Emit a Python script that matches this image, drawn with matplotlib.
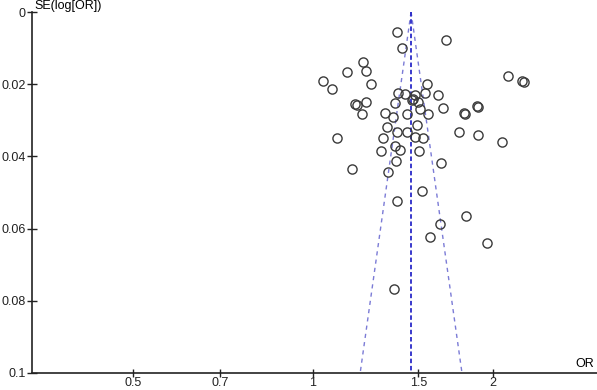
import numpy as np
import matplotlib.pyplot as plt

# study estimates
odds_ratio = [1.382, 1.669, 1.409, 1.212, 1.226, 1.140, 1.039, 1.076, 1.250, 2.119,
              2.236, 2.253, 1.551, 1.387, 1.425, 1.481, 1.539, 1.618, 1.371, 1.464,
              1.470, 1.498, 1.185, 1.176, 1.226, 1.510, 1.650, 1.888, 1.880, 1.789,
              1.796, 1.208, 1.319, 1.361, 1.436, 1.557, 1.330, 1.493, 1.382, 1.436,
              1.755, 1.888, 1.097, 1.309, 1.481, 1.527, 2.071, 1.371, 1.398, 1.299,
              1.504, 1.377, 1.637, 1.162, 1.335, 1.522, 1.382, 1.802, 1.631, 1.569,
              1.954, 1.366]
se_log_or = [0.0055, 0.0078, 0.0100, 0.0139, 0.0163, 0.0166, 0.0191, 0.0213, 0.0199, 0.0177,
             0.0191, 0.0194, 0.0199, 0.0224, 0.0227, 0.0230, 0.0224, 0.0230, 0.0252, 0.0244,
             0.0241, 0.0249, 0.0258, 0.0255, 0.0249, 0.0269, 0.0266, 0.0263, 0.0260, 0.0280,
             0.0283, 0.0283, 0.0280, 0.0291, 0.0283, 0.0283, 0.0319, 0.0313, 0.0332, 0.0332,
             0.0332, 0.0341, 0.0349, 0.0349, 0.0346, 0.0349, 0.0360, 0.0371, 0.0382, 0.0385,
             0.0385, 0.0413, 0.0418, 0.0435, 0.0443, 0.0496, 0.0524, 0.0565, 0.0587, 0.0623,
             0.0640, 0.0767]
pooled_or = 1.459
x_ticks = [0.5, 0.7, 1, 1.5, 2]
x_ticklabels = ['0.5', '0.7', '1', '1.5', '2']
y_ticks = [0, 0.02, 0.04, 0.06, 0.08, 0.1]
y_ticklabels = ['0', '0.02', '0.04', '0.06', '0.08', '0.1']

plt.rcParams['font.family'] = 'Liberation Sans'

fig = plt.figure(figsize=(5.97, 3.90), dpi=100)
ax = fig.add_axes([0.0536, 0.0436, 0.9464, 0.9256])

# funnel limits
se_line = np.linspace(0, 0.1, 50)
ax.plot(pooled_or * np.exp(-1.96 * se_line), se_line, color='#7b7bd6', ls=(0, (3, 3)), lw=1)
ax.plot(pooled_or * np.exp(1.96 * se_line), se_line, color='#7b7bd6', ls=(0, (3, 3)), lw=1)
ax.plot([pooled_or, pooled_or], [0, 0.1], color='#2a2ac8', ls=(0, (2.5, 1.5)), lw=1.3)

ax.plot(odds_ratio, se_log_or, 'o', ms=6.6, mfc='none', mec='#3a3a3a', mew=1.0)

ax.set_xscale('log')
ax.set_xlim(0.339, 2.985)
ax.set_ylim(0.1, 0)
ax.set_xticks(x_ticks)
ax.set_xticklabels(x_ticklabels)
ax.minorticks_off()
ax.set_yticks(y_ticks)
ax.set_yticklabels(y_ticklabels)
ax.tick_params(direction='inout', length=7, width=1, labelsize=9, colors='#222222', pad=1)
ax.tick_params(axis='x', length=6, pad=0)

for s in ['top', 'right']:
    ax.spines[s].set_visible(False)
for s in ['left', 'bottom']:
    ax.spines[s].set_linewidth(1.2)
    ax.spines[s].set_color('#222222')

fig.text(0.058, 1 - 6.5 / 390, 'SE(log[OR])', fontsize=9, va='center', ha='left')
ax.text(0.995, 0.008, 'OR', transform=ax.transAxes, fontsize=9, va='bottom', ha='right')

plt.savefig('out.png', dpi=100)
